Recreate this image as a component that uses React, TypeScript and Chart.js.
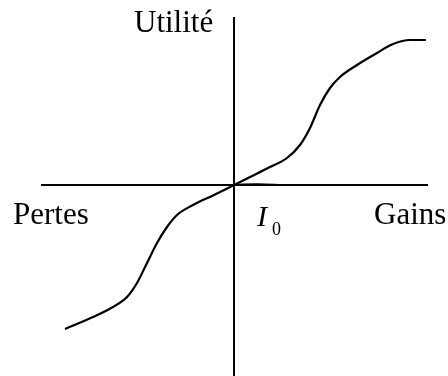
import React, { useEffect, useRef } from "react";
import { Chart, registerables } from "chart.js";

Chart.register(...registerables);

// Utility curve (gains/losses in arbitrary units)
const curveX = [
  -8.45, -7.05, -6.05, -5.35, -4.85, -4.35, -3.85, -3.35, -2.85, -2.05, -1.05, 0,
  0.8, 1.8, 2.65, 3.3, 3.8, 4.3, 4.8, 5.3, 6.15, 7.15, 7.95, 8.8, 9.6,
];
const curveY = [
  -7.2, -6.6, -6.1, -5.6, -4.9, -3.9, -2.9, -2.1, -1.5, -1.0, -0.52, 0,
  0.4, 0.9, 1.35, 2.0, 2.85, 4.0, 4.85, 5.4, 6.0, 6.6, 7.05, 7.25, 7.25,
];

// Axes
const hAxisX = [-9.65, 9.7];
const hAxisY = [0, 0];
const vAxisX = [0, 0];
const vAxisY = [8.4, -9.6];

// small tail at origin along the gains axis
const tailX = [0, 1.2, 2.45];
const tailY = [0.03, 0.05, 0];

// Text labels
const labelTexts = ["Utilité", "Pertes", "Gains"];
const labelX = [-5.0, -11.05, 7.0];
const labelY = [7.65, -1.95, -1.95];
const i0Main = "I";
const i0Sub = "0";

const toPts = (xs: number[], ys: number[]) => xs.map((x, i) => ({ x, y: ys[i] }));

const labelsPlugin = {
  id: "labelsPlugin",
  afterDatasetsDraw(chart: any) {
    const { ctx, scales } = chart;
    const xs = scales.x;
    const ys = scales.y;
    ctx.save();
    ctx.fillStyle = "#000";
    ctx.textBaseline = "alphabetic";
    ctx.textAlign = "left";
    ctx.font = "31px 'Liberation Serif', 'Times New Roman', serif";
    labelTexts.forEach((t, i) => {
      ctx.fillText(t, xs.getPixelForValue(labelX[i]), ys.getPixelForValue(labelY[i]));
    });
    ctx.font = "italic 30px 'Liberation Serif', 'Times New Roman', serif";
    ctx.fillText(i0Main, xs.getPixelForValue(1.15), ys.getPixelForValue(-2.05));
    ctx.font = "18px 'Liberation Serif', 'Times New Roman', serif";
    ctx.fillText(i0Sub, xs.getPixelForValue(1.9), ys.getPixelForValue(-2.5));
    ctx.restore();
  },
};

export default function App() {
  const ref = useRef<HTMLCanvasElement>(null);
  useEffect(() => {
    document.body.style.margin = "0";
    const chart = new Chart(ref.current as HTMLCanvasElement, {
      type: "scatter",
      data: {
        datasets: [
          {
            data: toPts(hAxisX, hAxisY),
            showLine: true,
            borderColor: "#000",
            borderWidth: 2,
            pointRadius: 0,
          },
          {
            data: toPts(vAxisX, vAxisY),
            showLine: true,
            borderColor: "#000",
            borderWidth: 2,
            pointRadius: 0,
          },
          {
            data: toPts(tailX, tailY),
            showLine: true,
            borderColor: "#000",
            borderWidth: 1.5,
            pointRadius: 0,
            tension: 0.4,
          },
          {
            data: toPts(curveX, curveY),
            showLine: true,
            borderColor: "#000",
            borderWidth: 2.2,
            pointRadius: 0,
            cubicInterpolationMode: "monotone",
          } as any,
        ],
      },
      options: {
        animation: false,
        responsive: false,
        maintainAspectRatio: false,
        layout: { padding: 0 },
        plugins: { legend: { display: false }, tooltip: { enabled: false } },
        scales: {
          x: { type: "linear", min: -11.7, max: 10.7, display: false },
          y: { type: "linear", min: -9.55, max: 9.25, display: false },
        },
      },
      plugins: [labelsPlugin],
    });
    return () => chart.destroy();
  }, []);
  return (
    <div style={{ width: 448, height: 376, background: "#fff" }}>
      <canvas ref={ref} width={448} height={376} />
    </div>
  );
}
